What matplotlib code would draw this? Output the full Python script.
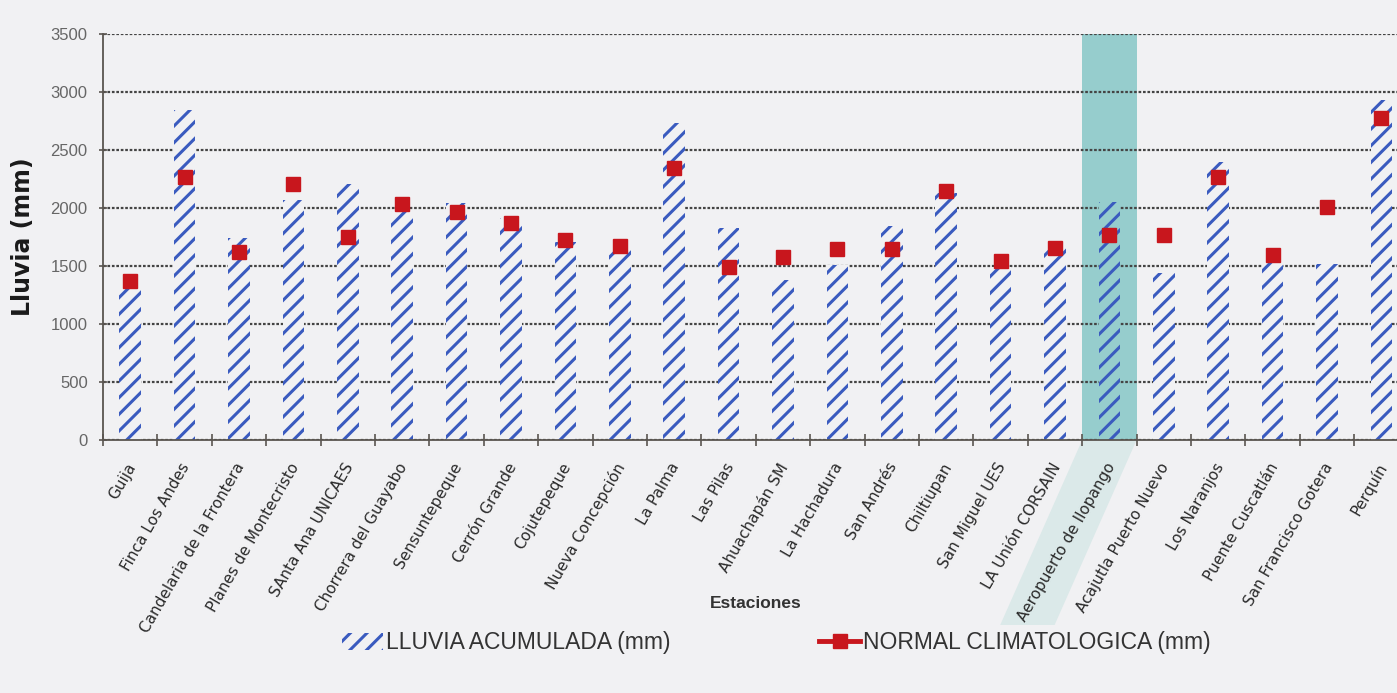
import numpy as np
import matplotlib
matplotlib.use("Agg")
import matplotlib.pyplot as plt
import matplotlib.transforms as mtransforms
from matplotlib.patches import Polygon
from matplotlib.lines import Line2D

# ---------------- data ----------------
estaciones = ["Guija", "Finca Los Andes", "Candelaria de la Frontera",
              "Planes de Montecristo", "SAnta Ana UNICAES", "Chorrera del Guayabo",
              "Sensuntepeque", "Cerrón Grande", "Cojutepeque", "Nueva Concepción",
              "La Palma", "Las Pilas", "Ahuachapán SM", "La Hachadura", "San Andrés",
              "Chiltiupan", "San Miguel UES", "LA Unión CORSAIN",
              "Aeropuerto de Ilopango", "Acajutla Puerto Nuevo", "Los Naranjos",
              "Puente Cuscatlán", "San Francisco Gotera", "Perquín"]
lluvia_acumulada = [1320, 2845, 1740, 2070, 2210, 1970, 2045, 1910, 1710, 1660,
                    2730, 1830, 1380, 1510, 1845, 2130, 1495, 1665,
                    2055, 1440, 2400, 1545, 1515, 2930]
normal_climatologica = [1370, 2270, 1623, 2207, 1750, 2034, 1968, 1868, 1724, 1672,
                        2342, 1491, 1580, 1650, 1650, 2150, 1546, 1652,
                        1767, 1767, 2270, 1595, 2011, 2773]
estacion_destacada = "Aeropuerto de Ilopango"
y_ticks = [0, 500, 1000, 1500, 2000, 2500, 3000, 3500]

# ---------------- style ----------------
BG = "#f1f1f3"
BLUE = "#3a5bbf"
RED = "#c8161d"
TEAL = "#96cdcd"
TEAL_LIGHT = "#dbe9e9"
SPINE = "#5a5550"
plt.rcParams["hatch.linewidth"] = 2.2

W, H = 1397, 693
fig = plt.figure(figsize=(W / 100, H / 100), dpi=100, facecolor=BG)
step = 54.4
ax = fig.add_axes([103 / W, 253 / H, 24 * step / W, 406 / H])
ax.set_facecolor(BG)
ax.set_axisbelow(True)

n = len(estaciones)
x = np.arange(n)
hi = estaciones.index(estacion_destacada)

ax.axvspan(hi - 0.5, hi + 0.5, color=TEAL, lw=0, zorder=0.2)

faces = [TEAL if i == hi else BG for i in range(n)]
bars = ax.bar(x, lluvia_acumulada, width=0.4, color=faces, edgecolor=BLUE,
              linewidth=0, hatch="//", zorder=2, label="LLUVIA ACUMULADA (mm)")
ax.plot(x, normal_climatologica, linestyle="none", marker="s", ms=9.5,
        color=RED, zorder=3)

ax.set_xlim(-0.5, n - 0.5)
ax.set_ylim(0, 3500)
ax.set_yticks(y_ticks)
ax.set_yticklabels([str(v) for v in y_ticks], fontfamily="Liberation Sans")
ax.set_xticks(np.arange(-0.5, n, 1.0))
ax.set_xticklabels([])

ax.yaxis.grid(True, color="#444444", linestyle=(0, (1.2, 0.8)), linewidth=1.6)
ax.xaxis.grid(False)

for s in ["top", "right"]:
    ax.spines[s].set_visible(False)
for s in ["left", "bottom"]:
    ax.spines[s].set_color(SPINE)
    ax.spines[s].set_linewidth(1.3)
ax.tick_params(axis="x", direction="inout", length=8, width=1.2, color=SPINE)
ax.tick_params(axis="y", direction="inout", length=6, width=1.2, color=SPINE,
               labelsize=12, labelcolor="#666666", pad=8)

# rotated station labels
trans = mtransforms.blended_transform_factory(ax.transData, ax.transAxes) + \
    mtransforms.ScaledTranslation(0.02, -0.24, fig.dpi_scale_trans)
for i, name in enumerate(estaciones):
    ax.text(i, 0, name, transform=trans, rotation=60, ha="right", va="center",
            rotation_mode="anchor", fontsize=11, color="#2a2a2a",
            fontfamily="DejaVu Sans")

ax.set_ylabel("Lluvia (mm)", fontsize=17, fontweight="bold", color="#1a1a1a",
              fontfamily="DejaVu Sans", va="center")
ax.yaxis.set_label_coords((23 - 103) / (24 * step), 0.5)
ax.set_xlabel("Estaciones", fontsize=12.5, fontweight="bold", color="#333333",
              fontfamily="Liberation Sans", va="center")
ax.xaxis.set_label_coords(0.5, (440 - 603) / 406)

# light teal band continuing under the highlighted station label
p0 = ax.transData.transform((hi - 0.5, 0))
p1 = ax.transData.transform((hi + 0.5, 0))
v = np.array([-82.0, -185.0])
band = Polygon([p0, p1, p1 + v, p0 + v], closed=True, facecolor=TEAL_LIGHT,
               edgecolor="none", transform=mtransforms.IdentityTransform(),
               zorder=-1)
fig.add_artist(band)

# legend
h_line = Line2D([], [], color=RED, lw=3.5, marker="s", ms=9.5)
leg = fig.legend([bars, h_line],
                 ["LLUVIA ACUMULADA (mm)", "NORMAL CLIMATOLOGICA (mm)"],
                 loc="center left", bbox_to_anchor=(342 / W, 1 - 643 / H),
                 ncol=2, frameon=False, handlelength=1.8, handletextpad=0.1,
                 columnspacing=6.5, borderaxespad=0, borderpad=0,
                 prop={"family": "Liberation Sans", "size": 16.5})
for t in leg.get_texts():
    t.set_color("#333333")

fig.savefig("out.png", dpi=100, facecolor=BG)
